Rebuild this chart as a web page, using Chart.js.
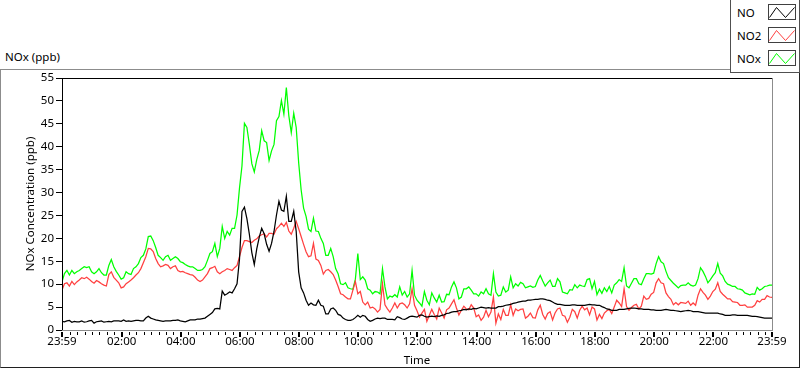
<!DOCTYPE html>
<html>
<head>
<meta charset="utf-8">
<script src="https://cdn.jsdelivr.net/npm/chart.js@4.4.0/dist/chart.umd.min.js"></script>
<style>
  html, body { margin: 0; padding: 0; background: #fff; }
  #wrap { position: relative; width: 800px; height: 369px; overflow: hidden;
          font-family: "Noto Sans", sans-serif; font-size: 11.5px; color: #000; }
  #frame { position: absolute; left: 0; top: 69px; width: 800px; height: 299px; box-sizing: border-box;
           border-top: 1px solid #8c8c8c; border-left: 1px solid #8c8c8c;
           border-right: 1px solid #202020; border-bottom: 1px solid #202020; }
  #caption { position: absolute; left: 5px; top: 49px; }
  #legend { position: absolute; left: 730px; top: -1px; width: 70px; height: 74px; box-sizing: border-box;
            border: 1px solid #505050; background: #fff; z-index: 2; }
  .row { position: absolute; left: 6px; height: 16px; line-height: 16px; }
  .sw { position: absolute; left: 37px; width: 28px; height: 16px; box-sizing: border-box;
        border: 1px solid #404040; background: #fff; }
  .sw svg { position: absolute; left: 0; top: 0; }
  canvas { position: absolute; left: 0; top: 0; }
</style>
</head>
<body>
<div id="wrap">
  <div id="frame"></div>
  <div id="caption">NOx (ppb)</div>
  <div id="legend"></div>
  <canvas id="chart" width="800" height="369"></canvas>
</div>
<script>
// 5-minute samples from 23:59 (previous day) to 23:59, one row = one hour
const sampleStartMin = -1;
const sampleStepMin = 5;

const noValues = [
  1.9,1.8,2.0,2.1,1.7,1.9,1.8,1.8,2.0,1.7,1.8,2.0,
  2.1,1.5,1.8,1.9,2.0,1.7,1.8,1.9,1.8,2.0,2.0,2.0,
  1.9,2.2,1.9,2.0,1.9,2.0,2.1,2.1,2.0,2.0,2.6,3.0,
  2.6,2.4,2.2,2.1,2.0,1.9,2.0,2.0,2.0,2.1,2.1,2.2,
  2.0,1.9,1.8,2.0,2.2,2.2,2.2,2.4,2.4,2.5,2.6,3.0,
  3.4,3.8,4.6,4.7,4.6,8.5,7.6,7.9,8.3,8.1,9.0,10.1,
  15.5,25.9,26.8,24.3,20.9,16.9,14.3,17.7,20.2,22.2,21.0,18.7,
  17.2,18.9,21.5,25.1,28.1,26.2,25.9,29.2,23.7,23.7,25.9,21.5,
  12.7,9.2,8.1,6.5,5.4,5.9,5.5,5.4,6.5,5.4,5.2,3.5,
  3.5,4.6,4.8,4.3,3.4,3.2,2.6,2.3,2.1,2.1,2.3,2.7,
  3.2,2.8,3.2,3.0,2.3,1.9,2.1,2.4,2.6,2.5,2.6,2.6,
  2.3,2.3,2.3,2.2,2.9,2.7,2.4,2.3,2.6,2.9,3.0,2.9,
  2.8,3.2,3.3,3.0,2.8,2.9,3.0,2.9,3.1,3.0,3.2,3.3,
  3.6,3.7,3.9,4.0,4.0,4.2,4.3,4.5,4.4,4.6,4.5,4.7,
  4.6,4.8,5.0,4.9,4.8,4.9,4.8,4.8,4.8,5.1,5.1,5.2,
  5.4,5.5,5.6,5.8,5.9,6.1,6.2,6.3,6.3,6.5,6.5,6.6,
  6.7,6.7,6.8,6.8,6.7,6.5,6.4,6.1,5.8,5.6,5.6,5.5,
  5.4,5.4,5.4,5.5,5.5,5.4,5.4,5.4,5.4,5.5,5.6,5.5,
  5.5,5.4,5.4,5.1,4.9,4.6,4.5,4.3,4.3,4.3,4.5,4.5,
  4.5,4.6,4.7,4.8,4.8,4.7,4.6,4.6,4.5,4.5,4.5,4.4,
  4.4,4.3,4.3,4.3,4.4,4.5,4.4,4.3,4.3,4.2,4.1,4.0,
  4.1,4.2,4.3,4.2,4.0,4.0,4.0,3.9,3.8,3.7,3.7,3.7,
  3.7,3.7,3.7,3.5,3.4,3.2,3.2,3.2,3.3,3.3,3.2,3.2,
  3.2,3.2,3.2,3.1,3.0,3.0,2.9,2.8,2.7,2.6,2.6,2.6,
  2.6
];
const no2Values = [
  8.7,10.1,10.3,9.6,10.6,9.9,10.5,10.9,11.4,11.2,11.5,11.1,
  10.6,10.2,10.8,10.5,10.1,9.8,9.6,12.1,12.7,11.5,10.9,10.3,
  9.2,9.4,10.1,10.5,10.9,11.4,12.0,12.5,13.4,14.7,16.0,17.8,
  17.7,17.1,15.6,14.5,13.8,14.0,14.3,14.1,13.4,13.8,14.0,13.0,
  12.7,12.8,12.5,12.3,12.1,12.0,11.5,10.9,10.6,10.9,11.6,12.3,
  13.4,13.6,13.9,12.7,12.3,12.7,13.0,13.4,13.2,13.0,13.6,14.1,
  16.0,18.0,19.5,19.5,19.3,19.1,19.6,19.9,20.5,20.8,21.0,20.3,
  21.1,21.1,20.9,22.1,22.6,23.3,22.6,23.5,21.6,20.9,22.2,23.7,
  22.1,20.4,18.7,17.1,16.0,16.2,18.9,15.5,15.2,14.1,12.2,13.0,
  13.2,12.7,12.1,10.9,9.5,7.9,7.7,7.2,6.8,6.8,8.7,10.6,
  7.9,8.4,6.1,5.5,6.1,4.8,5.0,4.6,3.9,4.5,10.1,5.5,
  4.6,3.9,4.8,5.9,4.8,5.7,5.9,5.5,4.8,5.7,9.0,5.4,
  4.2,2.8,3.7,4.5,1.9,3.2,4.5,3.4,2.4,4.8,3.7,2.6,
  4.4,4.8,5.7,6.6,4.8,3.3,4.3,5.2,4.6,4.4,5.5,4.8,
  2.9,3.3,2.1,2.8,4.3,2.9,3.9,7.2,1.5,3.5,2.3,4.5,
  3.2,3.2,5.5,3.2,4.6,4.2,4.5,4.6,2.6,3.0,3.7,2.7,
  2.6,4.4,5.4,3.4,2.4,3.6,4.0,2.2,3.7,4.6,4.8,3.2,
  3.0,1.7,2.8,4.5,4.0,2.6,4.3,5.2,4.4,4.8,3.3,5.0,
  4.6,2.2,3.4,2.5,3.7,4.2,4.5,3.6,5.0,6.5,5.9,5.1,
  9.0,5.1,4.3,4.9,5.4,5.6,4.6,5.2,7.4,6.7,6.9,7.8,
  8.2,10.3,11.2,10.3,10.1,8.1,7.3,6.7,5.5,6.0,5.5,6.0,
  5.9,5.8,6.3,5.4,5.9,5.4,7.6,9.0,8.2,7.6,6.7,7.4,
  8.4,8.9,10.3,8.4,7.8,7.3,6.8,6.8,6.2,6.1,6.0,5.4,
  5.4,5.5,5.0,5.0,5.0,5.4,6.4,6.1,6.7,6.7,7.5,7.2,
  7.1
];
const noxValues = [
  10.5,12.3,13.0,12.0,13.0,12.3,12.7,13.0,13.4,13.8,13.6,13.8,
  12.7,12.3,12.7,13.4,12.5,12.0,12.0,14.1,15.4,13.8,12.8,12.0,
  11.1,11.4,12.7,12.3,12.1,13.4,13.8,14.5,15.8,16.3,17.7,20.4,
  20.5,19.5,18.0,16.3,15.8,15.2,16.0,16.3,15.2,15.6,16.0,15.6,
  14.9,14.7,14.3,14.0,13.8,13.8,13.4,13.0,13.0,13.2,13.8,15.2,
  16.7,17.1,18.9,16.0,17.8,22.6,20.0,21.5,20.7,22.2,22.2,25.1,
  31.0,35.8,45.1,44.2,40.5,36.3,34.5,37.2,39.2,43.5,41.3,40.9,
  37.0,39.1,40.5,45.7,46.6,50.1,47.1,52.9,46.8,43.1,47.3,44.2,
  36.5,30.6,26.6,24.8,22.0,21.5,24.4,21.6,21.5,20.0,18.9,16.3,
  16.3,17.8,16.0,13.4,12.3,10.1,9.9,10.3,9.2,9.0,8.9,11.1,
  16.7,11.0,11.6,10.9,9.0,8.7,7.9,8.4,8.3,7.9,13.4,9.4,
  6.8,7.4,7.2,7.7,7.2,9.4,7.6,8.4,7.2,7.9,13.0,7.6,
  6.5,5.9,5.2,8.4,6.5,5.5,8.1,7.0,6.1,7.6,6.1,6.2,
  7.8,7.7,9.4,10.5,9.2,6.8,7.2,9.0,9.0,9.4,8.7,7.9,
  7.9,7.4,8.3,7.9,9.0,7.9,7.6,12.3,8.3,7.4,7.6,9.4,
  8.3,8.7,11.6,9.2,10.1,9.6,10.4,10.1,9.2,9.4,9.6,9.3,
  9.5,10.9,11.9,10.7,9.6,10.3,10.9,9.5,9.5,11.2,10.5,8.3,
  8.1,7.9,8.8,8.7,9.9,9.2,9.8,9.6,9.5,11.0,11.2,9.0,
  10.6,7.7,8.9,8.0,9.2,8.4,9.5,8.1,9.8,10.3,11.0,10.6,
  13.6,9.6,9.2,10.2,11.2,11.2,10.1,9.9,11.2,12.3,12.3,12.2,
  12.4,14.5,16.0,14.9,14.5,12.8,11.4,10.8,10.2,9.7,9.2,9.7,
  9.8,9.8,10.3,9.8,9.6,9.8,11.2,13.6,12.8,11.7,10.3,11.0,
  11.8,12.5,14.5,12.4,11.8,10.6,10.0,9.8,9.5,9.5,9.0,8.9,
  8.7,8.1,7.9,7.7,7.9,7.8,9.3,8.7,9.0,9.5,9.6,9.8,
  9.8
];

const seriesNames = ['NO', 'NO2', 'NOx'];
const seriesColors = ['#000000', '#ff4040', '#00ff00'];

const majorTickMinutes = [-1, 120, 240, 360, 480, 600, 720, 840, 960, 1080, 1200, 1320, 1439];
const majorTickLabels = ['23:59', '02:00', '04:00', '06:00', '08:00', '10:00', '12:00',
                         '14:00', '16:00', '18:00', '20:00', '22:00', '23:59'];
const minorTickStep = 15;
const yMin = 0, yMax = 55, yStep = 5;

// legend (LabVIEW style plot legend)
const legendEl = document.getElementById('legend');
seriesNames.forEach((name, i) => {
  const top = 4 + i * 23;
  legendEl.insertAdjacentHTML('beforeend',
    '<div class="row" style="top:' + (top + 1) + 'px">' + name + '</div>' +
    '<div class="sw" style="top:' + top + 'px"><svg width="26" height="14">' +
    '<polyline points="0.5,12.5 7.5,2.5 16.5,12.5 25.5,2.5" fill="none" stroke="' +
    seriesColors[i] + '" stroke-width="1"/></svg></div>');
});

function toPoints(values) {
  return values.map((v, i) => ({ x: sampleStartMin + i * sampleStepMin, y: v }));
}

Chart.defaults.font.family = '"Noto Sans", sans-serif';
Chart.defaults.font.size = 11.5;
Chart.defaults.color = '#000';

// plot frame and the x-axis major/minor tick marks
const frameAndTicks = {
  id: 'frameAndTicks',
  afterDraw(chart) {
    const { ctx, chartArea: a, scales: { x } } = chart;
    ctx.save();
    ctx.fillStyle = '#000';
    for (let m = minorTickStep; m < 1439; m += minorTickStep) {
      if (m % 120 === 0) continue;
      const px = Math.round(x.getPixelForValue(m));
      ctx.fillRect(px, a.bottom + 2, 1, 3);
    }
    majorTickMinutes.forEach(m => {
      const px = Math.round(x.getPixelForValue(m));
      ctx.fillRect(px - 1, a.bottom + 2, 2, 5);
    });
    ctx.fillRect(a.left, a.top, a.right - a.left, 1);
    ctx.fillRect(a.left, a.top, 1, a.bottom - a.top);
    ctx.fillStyle = '#8c8c8c';
    ctx.fillRect(a.left, a.bottom, a.right - a.left + 1, 1);
    ctx.fillRect(a.right, a.top, 1, a.bottom - a.top + 1);
    ctx.restore();
  }
};

new Chart(document.getElementById('chart'), {
  type: 'line',
  data: {
    datasets: seriesNames.map((name, i) => ({
      label: name,
      data: toPoints([noValues, no2Values, noxValues][i]),
      borderColor: seriesColors[i],
      borderWidth: 1.25,
      pointRadius: 0,
      tension: 0,
      fill: false
    }))
  },
  options: {
    responsive: false,
    animation: false,
    devicePixelRatio: 1,
    layout: { padding: { left: 0, top: 78, right: 28, bottom: 0 } },
    plugins: { legend: { display: false }, tooltip: { enabled: false } },
    scales: {
      x: {
        type: 'linear',
        min: majorTickMinutes[0],
        max: majorTickMinutes[majorTickMinutes.length - 1],
        afterBuildTicks: scale => { scale.ticks = majorTickMinutes.map(v => ({ value: v })); },
        afterFit: scale => { scale.height = 39; },
        ticks: {
          autoSkip: false, maxRotation: 0, padding: 0,
          callback: (value, index) => majorTickLabels[index]
        },
        grid: { drawOnChartArea: false, tickLength: 5, color: 'transparent', tickColor: 'transparent' },
        border: { display: false },
        title: { display: true, text: 'Time', padding: { top: 0, bottom: 1 } }
      },
      y: {
        min: yMin, max: yMax,
        afterFit: scale => { scale.width = 62; },
        ticks: { stepSize: yStep, padding: 2 },
        grid: { drawOnChartArea: false, tickLength: 6, tickColor: '#000' },
        border: { display: false },
        title: { display: true, text: 'NOx Concentration (ppb)', padding: { top: 24, bottom: 0 } }
      }
    }
  },
  plugins: [frameAndTicks]
});
</script>
</body>
</html>
